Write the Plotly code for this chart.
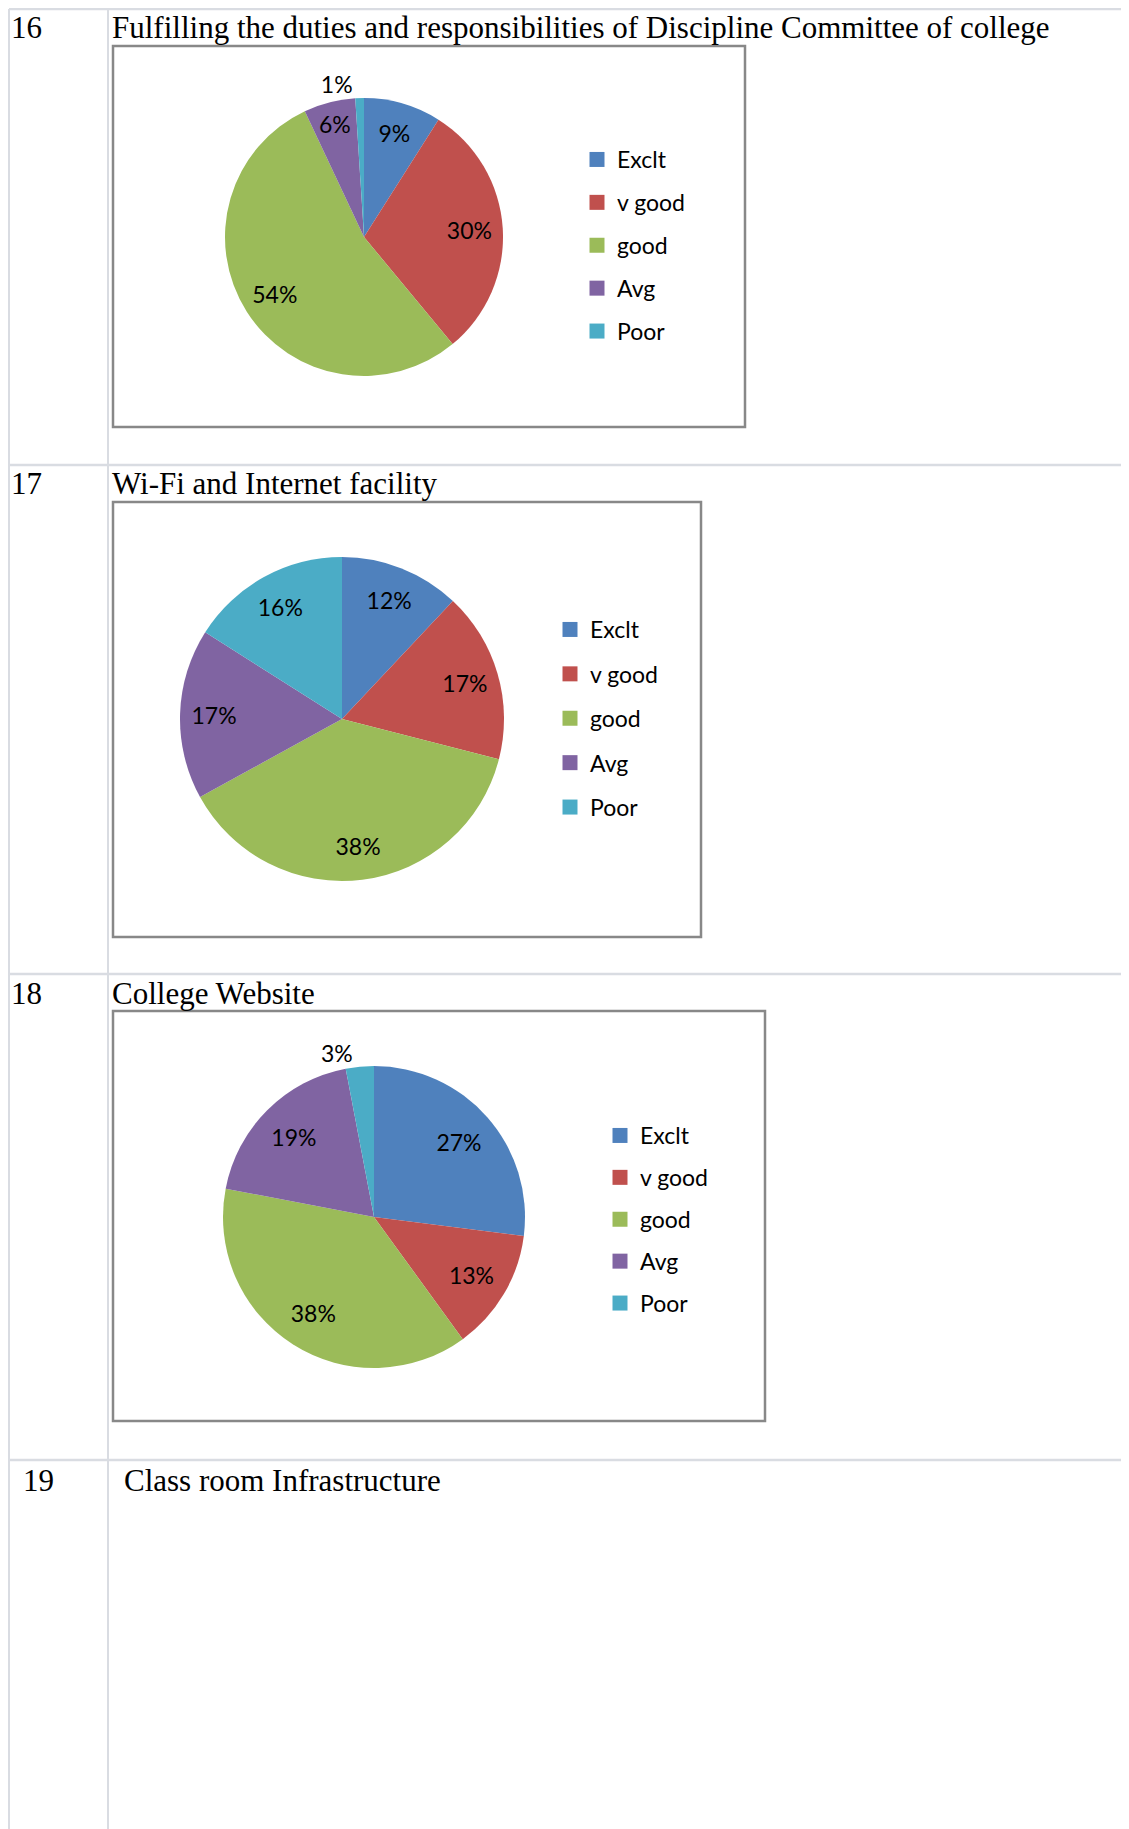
import plotly.graph_objects as go

# ---------------- data ----------------
categories = ["Exclt", "v good", "good", "Avg", "Poor"]
colors = ["#4F81BD", "#C0504D", "#9BBB59", "#8064A2", "#4BACC6"]

row_numbers = ["16", "17", "18", "19"]
row_titles = [
    "Fulfilling the duties and responsibilities of Discipline Committee of college",
    "Wi-Fi and Internet facility",
    "College Website",
    "Class room Infrastructure",
]

discipline_values = [9, 30, 54, 6, 1]
wifi_values = [12, 17, 38, 17, 16]
website_values = [27, 13, 38, 19, 3]

# ---------------- layout helpers ----------------
PAGE_W, PAGE_H = 1129, 1829
OFF = 8  # default body margin of the html page
W, H = PAGE_W - OFF, PAGE_H - OFF


def fx(x):
    return (x - OFF) / W


def fy(y):
    return 1 - (y - OFF) / H


LABEL_FONT = "Lato"
fig = go.Figure()

charts = [
    dict(values=discipline_values, c=(364, 237), r=139, ring_hole=0.52,
         pos=["inside", "inside", "inside", "inside", "outside"],
         box=(113, 46, 745, 427), leg=(577, 138), gap=10, name="legend"),
    dict(values=wifi_values, c=(342, 719), r=162, ring_hole=0.58,
         pos=["inside"] * 5,
         box=(113, 502, 701, 937), leg=(550, 608), gap=11.5, name="legend2"),
    dict(values=website_values, c=(374, 1217), r=151, ring_hole=0.50,
         pos=["inside", "inside", "inside", "inside", "outside"],
         box=(113, 1011, 765, 1421), leg=(600, 1114), gap=9, name="legend3"),
]

shapes = []
layout_legends = {}

for ch in charts:
    cx, cy = ch["c"]
    r = ch["r"]
    dom = dict(x=[fx(cx - r), fx(cx + r)], y=[fy(cy + r), fy(cy - r)])
    # the coloured pie
    fig.add_trace(go.Pie(
        labels=categories,
        values=ch["values"],
        sort=False,
        direction="clockwise",
        rotation=0,
        marker=dict(colors=colors, line=dict(width=0)),
        textinfo="none",
        domain=dom,
        showlegend=False,
        hoverinfo="label+percent",
    ))
    # transparent ring on top carrying the percentage labels (Excel-like placement)
    fig.add_trace(go.Pie(
        labels=categories,
        values=ch["values"],
        sort=False,
        direction="clockwise",
        rotation=0,
        hole=ch["ring_hole"],
        marker=dict(colors=["rgba(0,0,0,0)"] * len(categories), line=dict(width=0)),
        texttemplate="%{percent:.0%}",
        textposition=ch["pos"],
        insidetextorientation="horizontal",
        textfont=dict(family=LABEL_FONT, size=23, color="black"),
        domain=dom,
        showlegend=False,
        hoverinfo="skip",
    ))
    for cat, col in zip(categories, colors):
        fig.add_trace(go.Scatter(
            x=[None], y=[None], mode="markers",
            marker=dict(symbol="square", size=15, color=col, line=dict(width=0)),
            name=cat, legend=ch["name"], legendgroup=ch["name"] + cat,
            showlegend=True,
        ))
    x0, y0, x1, y1 = ch["box"]
    shapes.append(dict(type="rect", xref="paper", yref="paper",
                       x0=fx(x0), x1=fx(x1), y0=fy(y1), y1=fy(y0),
                       line=dict(color="#888888", width=2.5), layer="below"))
    lx, ly = ch["leg"]
    layout_legends[ch["name"]] = dict(
        x=fx(lx), y=fy(ly), xanchor="left", yanchor="top",
        font=dict(family=LABEL_FONT, size=23, color="black"),
        bgcolor="rgba(0,0,0,0)", borderwidth=0,
        traceorder="grouped", tracegroupgap=ch["gap"], itemsizing="trace",
    )

# table grid lines
grid_color = "#d9dce2"
for yy in [9, 465, 974, 1460]:
    shapes.append(dict(type="line", xref="paper", yref="paper",
                       x0=fx(9), x1=1, y0=fy(yy), y1=fy(yy),
                       line=dict(color=grid_color, width=2.5)))
for xx in [9, 108]:
    shapes.append(dict(type="line", xref="paper", yref="paper",
                       x0=fx(xx), x1=fx(xx), y0=0, y1=fy(9),
                       line=dict(color=grid_color, width=2)))

# row numbers and titles
annotations = []
num_x = [9, 9, 9, 21]
title_x = [110, 110, 110, 122]
title_y = [28, 483, 993, 1480]
for num, title, nx, tx, ty in zip(row_numbers, row_titles, num_x, title_x, title_y):
    for txt, xx in [(num, nx), (title, tx)]:
        annotations.append(dict(
            text=txt, x=fx(max(xx, OFF)), y=fy(ty), xref="paper", yref="paper",
            xanchor="left", yanchor="middle", showarrow=False,
            font=dict(family="Liberation Serif", size=31, color="black"),
        ))

fig.update_layout(
    width=W, height=H,
    margin=dict(l=0, r=0, t=0, b=0),
    paper_bgcolor="white", plot_bgcolor="rgba(0,0,0,0)",
    xaxis=dict(visible=False), yaxis=dict(visible=False),
    shapes=shapes, annotations=annotations,
    **layout_legends,
)

fig.write_html("out.html")
